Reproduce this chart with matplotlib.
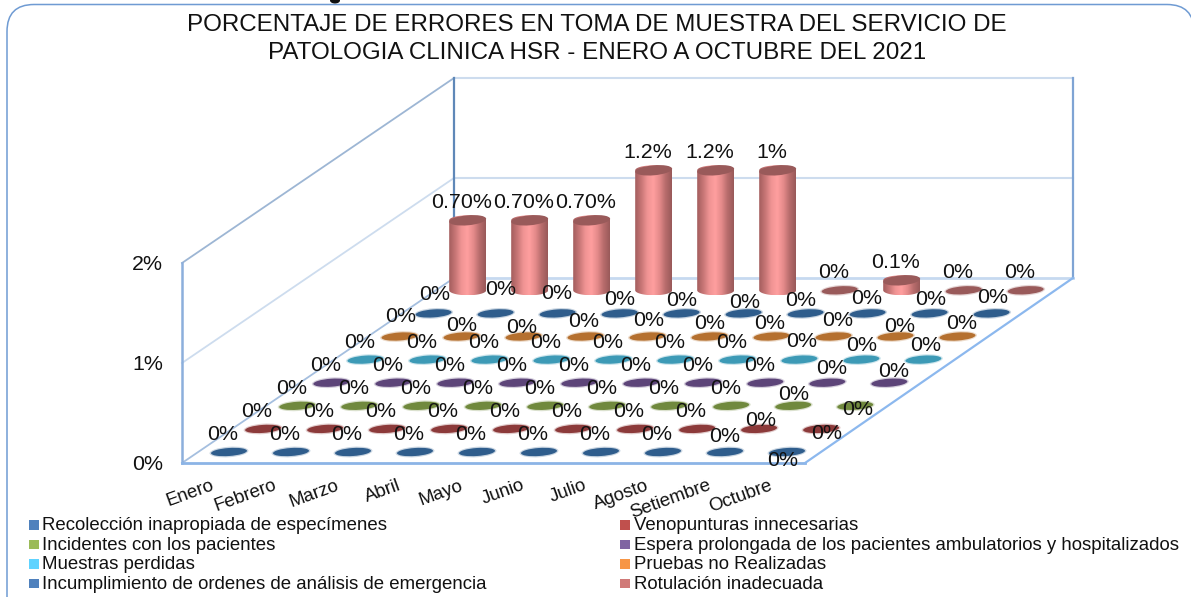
import numpy as np
import matplotlib
matplotlib.use('Agg')
import matplotlib.pyplot as plt
from matplotlib.colors import LinearSegmentedColormap
from matplotlib.patches import Ellipse, FancyBboxPatch, Polygon, Rectangle

# Data
months = ['Enero', 'Febrero', 'Marzo', 'Abril', 'Mayo', 'Junio', 'Julio',
          'Agosto', 'Setiembre', 'Octubre']
series_names = ['Recolección inapropiada de especímenes', 'Venopunturas innecesarias',
                'Incidentes con los pacientes',
                'Espera prolongada de los pacientes ambulatorios y hospitalizados',
                'Muestras perdidas', 'Pruebas no Realizadas',
                'Incumplimiento de ordenes de análisis de emergencia', 'Rotulación inadecuada']
recoleccion = [0, 0, 0, 0, 0, 0, 0, 0, 0, 0]
venopunturas = [0, 0, 0, 0, 0, 0, 0, 0, 0, 0]
incidentes = [0, 0, 0, 0, 0, 0, 0, 0, 0, 0]
espera = [0, 0, 0, 0, 0, 0, 0, 0, 0, 0]
perdidas = [0, 0, 0, 0, 0, 0, 0, 0, 0, 0]
no_realizadas = [0, 0, 0, 0, 0, 0, 0, 0, 0, 0]
incumplimiento = [0, 0, 0, 0, 0, 0, 0, 0, 0, 0]
rotulacion = [0.7, 0.7, 0.7, 1.2, 1.2, 1.2, 0, 0.1, 0, 0]
rotulacion_labels = ['0.70%', '0.70%', '0.70%', '1.2%', '1.2%', '1%', '0%', '0.1%', '0%', '0%']
y_ticks = [0, 1, 2]

all_series = [recoleccion, venopunturas, incidentes, espera, perdidas,
              no_realizadas, incumplimiento, rotulacion]
disc_colors = ['#2f5d8c', '#8c3a3a', '#70893d', '#5d4579', '#3d9ab6', '#b5702f',
               '#2f5d8c', '#995a5a']
legend_colors = ['#4f81bd', '#c0504d', '#9bbb59', '#8064a2', '#5fd3ff', '#f79646',
                 '#4f81bd', '#d07a78']

# Label nudges where the picture departs from the usual spot (series, month)
label_nudge = {
    (0, 8): (0, -16), (0, 9): (-4, 8),
    (1, 8): (2, -9), (1, 9): (6, 4),
    (2, 8): (0, -12), (2, 9): (2, 3),
    (3, 8): (4, -15), (3, 9): (4, -12),
    (4, 7): (2, -19), (4, 8): (0, -15), (4, 9): (2, -15),
    (5, 0): (1, -21), (5, 1): (0, -12), (5, 2): (-2, -10), (5, 3): (-2, -16),
    (5, 4): (1, -17), (5, 5): (0, -14), (5, 6): (-2, -14), (5, 7): (4, -17),
    (5, 8): (4, -11), (5, 9): (4, -14),
    (6, 0): (1, -20), (6, 1): (5, -25), (6, 2): (-1, -21), (6, 3): (0, -15),
    (6, 4): (0, -14), (6, 5): (1, -12), (6, 6): (-5, -14), (6, 7): (-1, -16),
    (6, 8): (1, -15), (6, 9): (1, -17),
}


# Oblique projection of the 3D chart, in picture pixels
def proj(month, series, value=0):
    x = 229 + 62 * month + 34.1 * series
    y = 452 - 23.1 * series - 100 * value
    return x, y


def wall(value, depth):
    # corner of the chart box: depth 0 is the front, 1 is the back wall
    return 182 + 272 * depth, 463 - 185 * depth - 100 * value


plt.rcParams['font.family'] = ['Liberation Sans', 'DejaVu Sans']
fig = plt.figure(figsize=(11.91, 5.97), dpi=100)
ax = fig.add_axes([0, 0, 1, 1])
ax.axis('off')

# Rounded frame, it runs off the bottom and right of the picture
ax.add_patch(FancyBboxPatch((7, 4.5), 1187, 625, boxstyle='round,pad=0,rounding_size=27',
                            fc='white', ec='#6f9bd3', lw=1.1, zorder=0))
# Dark speck at the top edge of the picture
ax.add_patch(Ellipse((335, 0.5), 10, 6, fc='#111111', ec='none', zorder=2))

# Walls and floor
for v, col, lw in [(1, '#cddcee', 1.3), (2, '#9db6d4', 1.3)]:
    ax.plot(*zip(wall(v, 0), wall(v, 1)), color=col, lw=lw, zorder=1)
    ax.plot([454, 1073], [wall(v, 1)[1]] * 2, color='#cddcee', lw=1.5, zorder=1)
ax.plot(*zip(wall(0, 0), wall(0, 1)), color='#a5bfdf', lw=1.3, zorder=1)
ax.plot([454, 1073], [278, 278], color='#c6d9f0', lw=2, zorder=1)
ax.plot([454, 454], [wall(2, 1)[1], 278], color='#5f88b8', lw=1.6, zorder=1)
ax.plot([1073, 1073], [wall(2, 1)[1], 278], color='#7fa4d4', lw=1.6, zorder=1)
ax.plot([182, 182], [wall(2, 0)[1], 463], color='#8cafdc', lw=1.8, zorder=1)
ax.plot([182, 805], [463, 463], color='#8cb4e6', lw=2, zorder=1)
ax.plot([805, 1073], [463, 278], color='#8cb8ee', lw=1.6, zorder=1)

# Cylinders and flat discs, from the back row to the front
cyl_cmap = LinearSegmentedColormap.from_list(
    'cyl', ['#a45e5e', '#c87676', '#f09494', '#ff9f9f', '#e48a8a', '#b86c6c', '#995a5a'])
grad = np.linspace(0, 1, 64).reshape(1, -1)
rx, ry = 18.5, 5
t = np.linspace(np.pi, 0, 30)

for s in range(len(all_series) - 1, -1, -1):
    for m, v in enumerate(all_series[s]):
        x0, y0 = proj(m, s)
        z = 3 + (7 - s) + m * 0.01
        if v > 0:
            x1, y1 = proj(m, s, v)
            body = list(zip(x0 + rx * np.cos(t), y0 + ry * np.sin(t))) + \
                list(zip(x0 - rx * np.cos(t), y1 - ry * np.sin(t)))
            im = ax.imshow(grad, cmap=cyl_cmap, extent=[x0 - rx, x0 + rx, y0 + ry, y1 - ry],
                           aspect='auto', zorder=z)
            clip = Polygon(body, closed=True, transform=ax.transData, fc='none', ec='none')
            ax.add_patch(clip)
            im.set_clip_path(clip)
            ax.add_patch(Ellipse((x0, y1), 2 * rx, 2 * ry, angle=-5, fc=disc_colors[s],
                                 ec='none', zorder=z + 0.1))
        else:
            ax.add_patch(Ellipse((x0, y0), 39, 10.5, angle=-4, fc=disc_colors[s], ec='none',
                                 alpha=0.25, zorder=z))
            ax.add_patch(Ellipse((x0, y0), 36, 8, angle=-4, fc=disc_colors[s], ec='none',
                                 zorder=z + 0.1))

# Data labels
for s, values in enumerate(all_series):
    for m, v in enumerate(values):
        x0, y0 = proj(m, s, v)
        if s == 7:
            dx, dy = -6, -18
            txt = rotulacion_labels[m]
        else:
            dx, dy = label_nudge.get((s, m), (-6, -18))
            dy += 1
            txt = f'{v:g}%'
        ax.text(x0 + dx, y0 + dy, txt, fontsize=15.4, color='#111111', ha='center',
                va='center', zorder=20)

# Value axis labels
for v in y_ticks:
    ax.text(163, wall(v, 0)[1] + 2, f'{v}%', fontsize=15.4, color='#111111', ha='right',
            va='center')

# Month labels
for m, name in enumerate(months):
    x0, _ = proj(m, 0)
    ax.text(x0 - 18, 477, name, fontsize=13.4, color='#111111', rotation=20,
            rotation_mode='anchor', ha='right', va='top', zorder=21)

# Legend in two columns
for i, (name, col) in enumerate(zip(series_names, legend_colors)):
    row = i // 2
    y = 525.5 + 19.6 * row
    x_sq, x_txt = (29, 42) if i % 2 == 0 else (620, 634)
    ax.add_patch(Rectangle((x_sq, y - 5.5), 9.5, 9.5, fc=col, ec='none', zorder=5))
    ax.text(x_txt, y, name, fontsize=13.4, color='#111111', ha='left', va='center', zorder=6)

# Title
ax.text(597, 25, 'PORCENTAJE DE ERRORES EN TOMA DE MUESTRA DEL SERVICIO DE', fontsize=17.4,
        color='#111111', ha='center', va='center')
ax.text(597, 53, 'PATOLOGIA CLINICA HSR - ENERO A OCTUBRE DEL 2021', fontsize=17.4,
        color='#111111', ha='center', va='center')

ax.set_xlim(0, 1191)
ax.set_ylim(597, 0)
fig.savefig('out.png', dpi=100)
